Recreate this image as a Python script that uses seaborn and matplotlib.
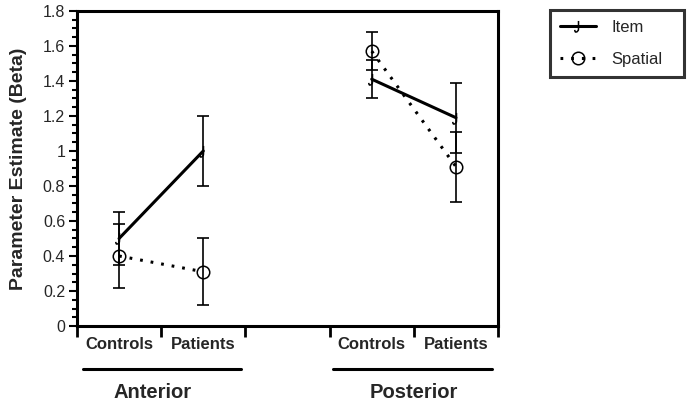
import numpy as np
import pandas as pd
import seaborn as sns
import matplotlib.pyplot as plt
from matplotlib.path import Path
from matplotlib.ticker import MultipleLocator, FixedLocator, FuncFormatter

regions = ['Anterior', 'Posterior']
groups = ['Controls', 'Patients']
conditions = ['Item', 'Spatial']

item_beta = [0.50, 1.00, 1.41, 1.19]
item_err = [0.15, 0.20, 0.11, 0.20]
spatial_beta = [0.40, 0.31, 1.57, 0.91]
spatial_err = [0.18, 0.19, 0.11, 0.20]

sns.set_theme(style='ticks')
plt.rcParams['font.family'] = ['Liberation Sans', 'DejaVu Sans']

rows = []
for cond, vals, errs in [('Item', item_beta, item_err),
                         ('Spatial', spatial_beta, spatial_err)]:
    k = 0
    for ri, reg in enumerate(regions):
        for gi, grp in enumerate(groups):
            rows.append(dict(cond=cond, region=reg, group=grp,
                             x=3 * ri + gi + 0.5, beta=vals[k], err=errs[k]))
            k += 1
df = pd.DataFrame(rows)

# hook-shaped marker for Item
hook = Path([(0, 0.9), (0, -0.4), (0, -0.9), (-0.45, -0.9), (-0.6, -0.9), (-0.6, -0.55)],
            [Path.MOVETO, Path.LINETO, Path.CURVE3, Path.CURVE3, Path.CURVE3, Path.CURVE3])

styles = {
    'Item': dict(linestyle='-', lw=2.2, marker=hook, markersize=8, mfc='none', mec='black', mew=1.1),
    'Spatial': dict(linestyle=(0, (0.9, 2.6)), lw=2.2, marker='o', markersize=9, mfc='none', mec='black', mew=1.1),
}

fig = plt.figure(figsize=(6.87, 4.04), dpi=100)
ax = fig.add_axes([0.112, 0.193, 0.613, 0.780])

for cond in conditions:
    for ri, reg in enumerate(regions):
        sub = df[(df.cond == cond) & (df.region == reg)]
        sns.lineplot(data=sub, x='x', y='beta', ax=ax, color='black',
                     label=cond if ri == 0 else None, legend=False,
                     **styles[cond])
        ax.errorbar(sub.x, sub.beta, yerr=sub.err, fmt='none', ecolor='black',
                    elinewidth=1.2, capsize=4, capthick=1.2)

ax.set_xlim(0, 5)
ax.set_ylim(0, 1.8)
ax.set_xlabel('')
ax.set_ylabel('Parameter Estimate (Beta)', fontsize=14, fontweight='bold', labelpad=11)

ax.yaxis.set_major_locator(MultipleLocator(0.2))
ax.yaxis.set_minor_locator(MultipleLocator(0.05))
ax.yaxis.set_major_formatter(FuncFormatter(lambda v, p: '%g' % round(v, 2)))
ax.tick_params(axis='y', which='major', length=6, width=1.5, labelsize=11.5, pad=2.5, color='black')
ax.tick_params(axis='y', which='minor', length=3.5, width=1.5, color='black')

ax.xaxis.set_major_locator(FixedLocator(range(6)))
ax.set_xticklabels([])
label_pos = [3 * ri + gi + 0.5 for ri in range(2) for gi in range(2)]
ax.xaxis.set_minor_locator(FixedLocator(label_pos))
ax.set_xticklabels(groups * 2, minor=True, fontsize=12, fontweight='bold')
ax.tick_params(axis='x', which='major', length=8, width=2, color='black')
ax.tick_params(axis='x', which='minor', length=0, pad=8)

for s in ax.spines.values():
    s.set_linewidth(2.2)
    s.set_color('black')

trans = ax.get_xaxis_transform()
for (x0, x1), xc, reg in zip([(0.07, 1.95), (3.04, 4.93)], [0.9, 4.0], regions):
    ax.plot([x0, x1], [-0.137, -0.137], transform=trans, color='black', lw=2.2, clip_on=False)
    ax.text(xc, -0.21, reg, transform=trans, ha='center', va='center',
            fontsize=14.5, fontweight='bold')

leg = ax.legend(loc='upper left', bbox_to_anchor=(0.800, 0.976, 0.196, 0.0),
                bbox_transform=fig.transFigure, mode='expand',
                fontsize=12, frameon=True, fancybox=False, handlelength=2.2,
                borderpad=0.6, labelspacing=1.05, handletextpad=0.9, borderaxespad=0)
leg.get_frame().set_edgecolor('black')
leg.get_frame().set_linewidth(2.2)

fig.savefig('out.png', dpi=100)
